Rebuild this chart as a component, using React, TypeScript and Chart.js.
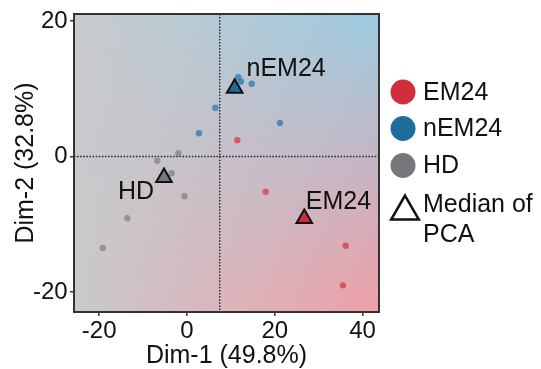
import React, { useEffect, useRef } from 'react';
import { Chart, registerables } from 'chart.js';

Chart.register(...registerables);

// ---- data ----
const groups = ['EM24', 'nEM24', 'HD'];
const em24X = [11.46, 17.93, 36.15, 35.54];
const em24Y = [2.39, -5.2, -13.18, -19.03];
const nem24X = [11.69, 12.3, 14.74, 6.45, 2.73, 21.18];
const nem24Y = [11.7, 11.08, 10.75, 7.21, 3.43, 4.95];
const hdX = [-1.98, -6.77, -3.49, -0.57, -13.6, -19.2];
const hdY = [0.47, -0.62, -2.48, -5.88, -9.13, -13.52];
const medianX = [26.72, 10.87, -5.24];
const medianY = [-9.16, 10.09, -3.1];
const xTicks = [-20, 0, 20, 40];
const yTicks = [-20, 0, 20];
const xRange = [-25.74, 43.74];
const yRange = [-22.97, 21.05];
const refLineX = 7.45;
const refLineY = 0;
const xTitle = 'Dim-1 (49.8%)';
const yTitle = 'Dim-2 (32.8%)';
const legendMedian = ['Median of', 'PCA'];

// ---- styles ----
const FONT = "'Liberation Sans', Arial, Helvetica, sans-serif";
const groupColors = ['#d02f3a', '#1f6c9e', '#76777a'];
const dotColors = ['rgba(218,52,64,0.72)', 'rgba(35,118,175,0.72)', 'rgba(120,120,126,0.65)'];
const labelOffsets = [
  { dx: 1.5, dy: -16.8, align: 'left' },
  { dx: 11.8, dy: -19.5, align: 'left' },
  { dx: -10, dy: 14.5, align: 'right' },
];
const corners = {
  tl: [201, 202, 204],
  tr: [156, 203, 225],
  bl: [200, 201, 204],
  br: [239, 159, 167],
};

const toPts = (xs: number[], ys: number[]) => xs.map((x, i) => ({ x, y: ys[i] }));

export default function App() {
  const ref = useRef<HTMLCanvasElement>(null);

  useEffect(() => {
    document.body.style.margin = '0';
    const canvas = ref.current!;

    const bgPlugin = {
      id: 'bgGradient',
      beforeDraw(chart: any) {
        const { ctx, chartArea: a } = chart;
        const w = Math.round(a.right - a.left);
        const h = Math.round(a.bottom - a.top);
        const off = document.createElement('canvas');
        off.width = w;
        off.height = h;
        const octx = off.getContext('2d')!;
        const img = octx.createImageData(w, h);
        for (let yy = 0; yy < h; yy++) {
          const v = yy / (h - 1);
          for (let xx = 0; xx < w; xx++) {
            const u = xx / (w - 1);
            const i = (yy * w + xx) * 4;
            for (let c = 0; c < 3; c++) {
              img.data[i + c] =
                corners.tl[c] * (1 - u) * (1 - v) +
                corners.tr[c] * u * (1 - v) +
                corners.bl[c] * (1 - u) * v +
                corners.br[c] * u * v;
            }
            img.data[i + 3] = 255;
          }
        }
        octx.putImageData(img, 0, 0);
        ctx.save();
        ctx.drawImage(off, a.left, a.top);
        ctx.restore();
      },
      beforeDatasetsDraw(chart: any) {
        const { ctx, chartArea: a, scales } = chart;
        const px = scales.x.getPixelForValue(refLineX);
        const py = scales.y.getPixelForValue(refLineY);
        ctx.save();
        ctx.strokeStyle = '#222';
        ctx.lineWidth = 1.4;
        ctx.setLineDash([1.5, 1.6]);
        ctx.beginPath();
        ctx.moveTo(px, a.top);
        ctx.lineTo(px, a.bottom);
        ctx.moveTo(a.left, py);
        ctx.lineTo(a.right, py);
        ctx.stroke();
        ctx.restore();
      },
      afterDraw(chart: any) {
        const { ctx, chartArea: a, scales } = chart;
        ctx.save();
        // frame
        ctx.strokeStyle = '#333';
        ctx.lineWidth = 2;
        ctx.strokeRect(a.left, a.top, a.right - a.left, a.bottom - a.top);
        // median labels
        ctx.fillStyle = '#111';
        ctx.font = `25px ${FONT}`;
        ctx.textBaseline = 'middle';
        groups.forEach((g, i) => {
          const px = scales.x.getPixelForValue(medianX[i]);
          const py = scales.y.getPixelForValue(medianY[i]);
          const o = labelOffsets[i];
          ctx.textAlign = o.align;
          ctx.fillText(g, px + o.dx, py + o.dy);
        });
        // legend
        const lx = 403;
        const tx = 423;
        const ly = [92, 128.5, 165.5];
        groups.forEach((g, i) => {
          ctx.beginPath();
          ctx.fillStyle = groupColors[i];
          ctx.arc(lx, ly[i], 12.5, 0, Math.PI * 2);
          ctx.fill();
          ctx.fillStyle = '#111';
          ctx.textAlign = 'left';
          ctx.fillText(g, tx, ly[i] + 1);
        });
        // triangle legend
        const tr = 16;
        const tcx = 405;
        const tcy = 211.5;
        ctx.beginPath();
        for (let k = 0; k < 3; k++) {
          const ang = (k * 2 * Math.PI) / 3;
          const vx = tcx + Math.sin(ang) * tr;
          const vy = tcy - Math.cos(ang) * tr;
          if (k === 0) ctx.moveTo(vx, vy);
          else ctx.lineTo(vx, vy);
        }
        ctx.closePath();
        ctx.fillStyle = '#fff';
        ctx.fill();
        ctx.strokeStyle = '#111';
        ctx.lineWidth = 2.5;
        ctx.lineJoin = 'miter';
        ctx.stroke();
        ctx.fillStyle = '#111';
        ctx.fillText(legendMedian[0], tx, 205.3);
        ctx.fillText(legendMedian[1], tx, 235.3);
        ctx.restore();
      },
    };

    const tickFont = { family: FONT, size: 24, lineHeight: 1 };
    const titleFont = { family: FONT, size: 25, lineHeight: 1 };
    const gridOpts = {
      display: true,
      drawOnChartArea: false,
      drawTicks: true,
      tickLength: 4,
      color: '#333',
      lineWidth: 1.5,
    };

    const chart = new Chart(canvas, {
      type: 'scatter',
      data: {
        datasets: [
          {
            label: 'Median of PCA',
            data: toPts(medianX, medianY),
            pointStyle: 'triangle',
            pointRadius: 9,
            pointBackgroundColor: groupColors,
            pointBorderColor: '#111',
            pointBorderWidth: 2,
            order: 0,
          },
          {
            label: groups[0],
            data: toPts(em24X, em24Y),
            pointRadius: 3.2,
            pointBackgroundColor: dotColors[0],
            pointBorderWidth: 0,
            order: 1,
          },
          {
            label: groups[1],
            data: toPts(nem24X, nem24Y),
            pointRadius: 3.2,
            pointBackgroundColor: dotColors[1],
            pointBorderWidth: 0,
            order: 1,
          },
          {
            label: groups[2],
            data: toPts(hdX, hdY),
            pointRadius: 3.2,
            pointBackgroundColor: dotColors[2],
            pointBorderWidth: 0,
            order: 1,
          },
        ],
      },
      options: {
        animation: false,
        responsive: false,
        events: [],
        layout: { padding: { left: 0, right: 162, top: 14, bottom: 0 } },
        plugins: {
          legend: { display: false },
          tooltip: { enabled: false },
        },
        scales: {
          x: {
            type: 'linear',
            min: xRange[0],
            max: xRange[1],
            afterBuildTicks: (s: any) => {
              s.ticks = xTicks.map((v) => ({ value: v }));
            },
            afterFit: (s: any) => {
              s.height = 57;
              s.paddingLeft = 0;
              s.paddingRight = 0;
            },
            grid: gridOpts,
            border: { display: false },
            ticks: { font: tickFont, color: '#111', padding: 3.5, maxRotation: 0, autoSkip: false },
            title: { display: true, text: xTitle, font: titleFont, color: '#111', padding: { top: 0, bottom: 0 } },
          },
          y: {
            type: 'linear',
            min: yRange[0],
            max: yRange[1],
            afterBuildTicks: (s: any) => {
              s.ticks = yTicks.map((v) => ({ value: v }));
            },
            afterFit: (s: any) => {
              s.width = 74;
              s.paddingTop = 0;
              s.paddingBottom = 0;
            },
            grid: gridOpts,
            border: { display: false },
            ticks: { font: tickFont, color: '#111', padding: 2.3, autoSkip: false },
            title: { display: true, text: yTitle, font: titleFont, color: '#111', padding: { top: 13.4, bottom: 0 } },
          },
        },
      },
      plugins: [bgPlugin],
    } as any);

    return () => chart.destroy();
  }, []);

  return (
    <div style={{ width: 541, height: 369 }}>
      <canvas ref={ref} width={541} height={369} style={{ display: 'block' }} />
    </div>
  );
}
